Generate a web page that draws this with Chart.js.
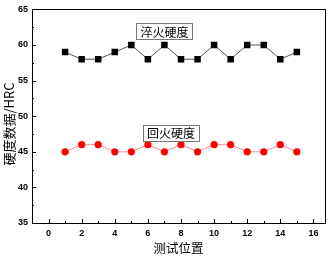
<!DOCTYPE html>
<html>
<head>
<meta charset="utf-8">
<script src="https://cdn.jsdelivr.net/npm/chart.js@4"></script>
<style>
  html, body { margin: 0; padding: 0; background: #fff; }
  #wrap { width: 334px; height: 257px; }
</style>
</head>
<body>
<div id="wrap"><canvas id="hardChart" width="334" height="257"></canvas></div>
<script>
// data
var positions = [1, 2, 3, 4, 5, 6, 7, 8, 9, 10, 11, 12, 13, 14, 15];
var quenchVals = [59, 58, 58, 59, 60, 58, 60, 58, 58, 60, 58, 60, 60, 58, 59];
var temperVals = [45, 46, 46, 45, 45, 46, 45, 46, 45, 46, 46, 45, 45, 46, 45];
var xTicks = [0, 2, 4, 6, 8, 10, 12, 14, 16];
var yTicks = [35, 40, 45, 50, 55, 60, 65];
var quenchLabel = "淬火硬度";
var temperLabel = "回火硬度";
var yTitle = "硬度数据/HRC";

var cjk = "'Noto Sans CJK SC', sans-serif";
var num = "'Liberation Sans', Arial, sans-serif";

// frame + inward ticks + text boxes + y title
var framePlugin = {
  id: "frame",
  afterDraw: function (chart) {
    var ctx = chart.ctx;
    var a = chart.chartArea;
    var xs = chart.scales.x, ys = chart.scales.y;
    ctx.save();
    ctx.strokeStyle = "#000";
    ctx.lineWidth = 1;
    ctx.strokeRect(Math.round(a.left) + 0.5, Math.round(a.top) + 0.5,
      Math.round(a.right - a.left), Math.round(a.bottom - a.top));

    ctx.beginPath();
    for (var v = 0; v <= 16; v++) {
      var px = Math.round(xs.getPixelForValue(v)) + 0.5;
      var len = v % 2 === 0 ? 4 : 2;
      ctx.moveTo(px, a.bottom);
      ctx.lineTo(px, a.bottom - len);
    }
    for (var y = 35; y <= 65; y += 2.5) {
      var py = Math.round(ys.getPixelForValue(y)) + 0.5;
      var l2 = y % 5 === 0 ? 4 : 2;
      ctx.moveTo(a.left, py);
      ctx.lineTo(a.left + l2, py);
    }
    ctx.stroke();

    function box(text, xv, yv) {
      ctx.font = "12px " + cjk;
      ctx.textAlign = "center";
      ctx.textBaseline = "middle";
      var cx = xs.getPixelForValue(xv), cy = ys.getPixelForValue(yv);
      var w = ctx.measureText(text).width + 8, h = 16;
      ctx.fillStyle = "#fff";
      ctx.fillRect(cx - w / 2, cy - h / 2, w, h);
      ctx.strokeStyle = "#777";
      ctx.strokeRect(Math.round(cx - w / 2) + 0.5, Math.round(cy - h / 2) + 0.5, Math.round(w), h);
      ctx.fillStyle = "#000";
      ctx.fillText(text, cx, cy + 1);
    }
    box(quenchLabel, 7.0, 61.9);
    box(temperLabel, 7.4, 47.7);

    ctx.translate(9, 124);
    ctx.rotate(-Math.PI / 2);
    ctx.font = "13px " + cjk;
    ctx.textAlign = "center";
    ctx.textBaseline = "middle";
    ctx.fillStyle = "#000";
    ctx.fillText(yTitle, 0, 0);
    ctx.restore();
  }
};

new Chart(document.getElementById("hardChart"), {
  type: "line",
  data: {
    labels: positions,
    datasets: [
      {
        data: positions.map(function (p, i) { return { x: p, y: quenchVals[i] }; }),
        borderColor: "#555",
        borderWidth: 1,
        pointStyle: "rect",
        pointRadius: 4.6,
        pointBackgroundColor: "#000",
        pointBorderColor: "#000",
        pointBorderWidth: 0
      },
      {
        data: positions.map(function (p, i) { return { x: p, y: temperVals[i] }; }),
        borderColor: "#f29090",
        borderWidth: 1,
        pointStyle: "circle",
        pointRadius: 3.6,
        pointBackgroundColor: "#ff0000",
        pointBorderColor: "#ff0000",
        pointBorderWidth: 0
      }
    ]
  },
  options: {
    responsive: false,
    animation: false,
    layout: { padding: { top: 6, right: 9, left: 0, bottom: 0 } },
    plugins: { legend: { display: false }, tooltip: { enabled: false } },
    scales: {
      x: {
        type: "linear",
        min: -1,
        max: 16.7,
        afterBuildTicks: function (s) { s.ticks = xTicks.map(function (v) { return { value: v }; }); },
        afterFit: function (s) { s.height = 34; },
        grid: { display: false, drawTicks: false },
        border: { display: false },
        ticks: { color: "#000", padding: 5, maxRotation: 0, font: { family: num, size: 9, weight: "bold" } },
        title: { display: true, text: "测试位置", color: "#000", padding: { top: 0, bottom: 1 }, font: { family: cjk, size: 12.5 } }
      },
      y: {
        min: 35,
        max: 65,
        afterBuildTicks: function (s) { s.ticks = yTicks.map(function (v) { return { value: v }; }); },
        afterFit: function (s) { s.width = 32; },
        grid: { display: false, drawTicks: false },
        border: { display: false },
        ticks: { color: "#000", padding: 4, font: { family: num, size: 9, weight: "bold" } },
        title: { display: false }
      }
    }
  },
  plugins: [framePlugin]
});
</script>
</body>
</html>
